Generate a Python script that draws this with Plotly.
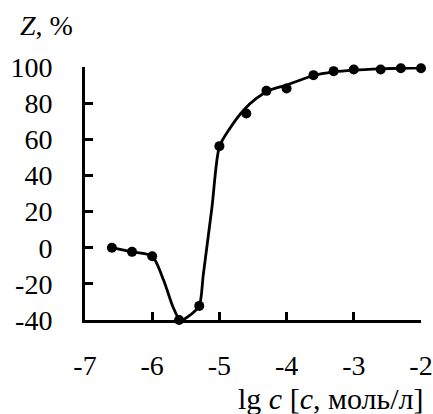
import plotly.graph_objects as go

# measured points
lg_c = [-6.6, -6.3, -6.0, -5.6, -5.3, -5.0, -4.6, -4.3, -4.0, -3.6, -3.3, -3.0, -2.6, -2.3, -2.0]
z_pct = [0.0, -2.3, -4.7, -40.0, -32.2, 56.2, 74.3, 86.8, 88.1, 95.5, 97.7, 98.6, 98.6, 99.3, 99.3]

# smoothed curve
curve_x = [-6.6, -6.3, -6.0, -5.83, -5.69, -5.58, -5.44, -5.3, -5.24, -5.11, -5.0,
           -4.84, -4.64, -4.45, -4.25, -4.0, -3.6, -3.3, -3.0, -2.6, -2.3, -2.0]
curve_y = [0.0, -2.3, -4.7, -18.0, -32.8, -40.3, -37.4, -32.2, -15.0, 22.6, 56.0,
           66.3, 76.1, 82.6, 87.2, 90.0, 95.3, 97.3, 98.3, 99.0, 99.3, 99.5]

x_ticks = [-7, -6, -5, -4, -3, -2]
x_ticktext = ["-7", "-6", "-5", "-4", "-3", "-2"]
y_ticks = [-40, -20, 0, 20, 40, 60, 80, 100]
y_ticktext = ["-40", "-20", "0", "20", "40", "60", "80", "100"]

FONT = "Liberation Serif"

fig = go.Figure()
fig.add_trace(go.Scatter(x=curve_x, y=curve_y, mode="lines",
                         line=dict(color="black", width=2.8, shape="spline", smoothing=0.7),
                         hoverinfo="skip", cliponaxis=False))
fig.add_trace(go.Scatter(x=lg_c, y=z_pct, mode="markers",
                         marker=dict(color="black", size=10), cliponaxis=False))

fig.update_layout(
    width=433, height=414,
    margin=dict(l=85, r=12, t=67, b=94, autoexpand=False),
    paper_bgcolor="white", plot_bgcolor="white",
    showlegend=False,
    font=dict(family=FONT, size=28, color="black"),
    xaxis=dict(range=[-7, -2], tickvals=x_ticks, ticktext=x_ticktext, automargin=False,
               showgrid=False, zeroline=False, showline=True, linecolor="black", linewidth=3,
               ticks="inside", ticklen=8, tickwidth=3, tickcolor="black",
               ticklabelstandoff=18, tickfont=dict(family=FONT, size=28)),
    yaxis=dict(range=[-40, 100], tickvals=y_ticks, ticktext=y_ticktext, automargin=False,
               showgrid=False, zeroline=False, showline=True, linecolor="black", linewidth=3,
               ticks="inside", ticklen=8, tickwidth=3, tickcolor="black",
               ticklabelstandoff=24, tickfont=dict(family=FONT, size=28)),
    annotations=[
        dict(text="<i>Z</i>, %", xref="paper", yref="paper", x=-0.2, y=1.166,
             xanchor="left", yanchor="middle", showarrow=False, font=dict(family=FONT, size=28)),
        dict(text="lg <i>c</i> [<i>c</i>, моль/л]", xref="paper", yref="paper", x=1.015, y=-0.312,
             xanchor="right", yanchor="middle", showarrow=False, font=dict(family=FONT, size=30)),
    ],
)

fig.write_html("out.html", config={"displayModeBar": False},
               post_script="document.body.style.margin='0';document.body.style.padding='0';")
